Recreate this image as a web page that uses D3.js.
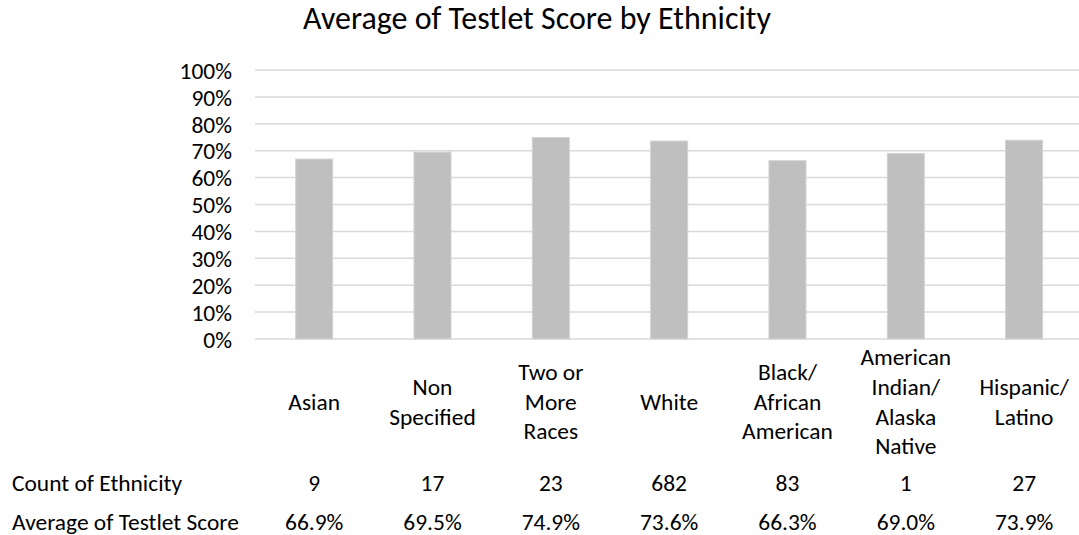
<!DOCTYPE html>
<html>
<head>
<meta charset="utf-8">
<script src="https://cdn.jsdelivr.net/npm/d3@7"></script>
<style>
  html, body { margin: 0; padding: 0; background: #fff; }
  svg { display: block; }
  text { font-family: Carlito, Calibri, Lato, "Open Sans", sans-serif; fill: #000; }
</style>
</head>
<body>
<svg id="chart" width="1079" height="535"></svg>
<script>
// Ethnicity groups (multi-line axis labels)
const categories = [
  ["Asian"],
  ["Non", "Specified"],
  ["Two or", "More", "Races"],
  ["White"],
  ["Black/", "African", "American"],
  ["American", "Indian/", "Alaska", "Native"],
  ["Hispanic/", "Latino"]
];
// Count of Ethnicity
const counts = [9, 17, 23, 682, 83, 1, 27];
// Average of Testlet Score (fraction)
const averages = [0.669, 0.695, 0.749, 0.736, 0.663, 0.690, 0.739];
// Y axis ticks
const yTicks = [0, 0.1, 0.2, 0.3, 0.4, 0.5, 0.6, 0.7, 0.8, 0.9, 1.0];
const tableRowLabels = ["Count of Ethnicity", "Average of Testlet Score"];
const titleText = "Average of Testlet Score by Ethnicity";

const svg = d3.select("#chart");
const keys = categories.map((c, i) => i);

// Pick a font size so a string renders at the wanted width with whatever face is available
function fitSize(str, targetWidth) {
  const probe = svg.append("text").style("font-size", "100px").text(str);
  const w = probe.node().getComputedTextLength();
  probe.remove();
  return 100 * targetWidth / w;
}
const titleSize = fitSize(titleText, 468);
const bodySize = fitSize(tableRowLabels[1], 227);

const x = d3.scaleBand()
  .domain(keys)
  .range([255, 1083.3])
  .paddingInner(0.687)
  .paddingOuter(0.3435);

const y = d3.scaleLinear().domain([0, 1]).range([339, 70]);

// Title
svg.append("text")
  .attr("x", 537).attr("y", 28.5)
  .attr("text-anchor", "middle")
  .style("font-size", titleSize + "px")
  .text(titleText);

// Gridlines
svg.append("g")
  .selectAll("line")
  .data(yTicks)
  .join("line")
  .attr("x1", 255).attr("x2", 1079)
  .attr("y1", d => y(d)).attr("y2", d => y(d))
  .attr("stroke", "#d9d9d9")
  .attr("stroke-width", 1.5);

// Y axis tick labels
const yAxis = d3.axisLeft(y).tickValues(yTicks).tickFormat(d3.format(".0%")).tickSize(0).tickPadding(0);
const yg = svg.append("g").attr("transform", "translate(232,0)").call(yAxis);
yg.select(".domain").remove();
yg.selectAll("text")
  .style("font-size", bodySize + "px")
  .style("font-family", "Carlito, Calibri, Lato, sans-serif")
  .attr("fill", "#000")
  .attr("dy", "0.35em");

// Bars
svg.append("g")
  .selectAll("rect")
  .data(averages)
  .join("rect")
  .attr("x", (d, i) => x(i))
  .attr("width", x.bandwidth())
  .attr("y", d => y(d))
  .attr("height", d => y(0) - y(d))
  .attr("fill", "#bfbfbf")
  .attr("stroke", "#d4d4d4")
  .attr("stroke-width", 1);

// Category labels, vertically centred as a block
const lineH = 29.6;
const catCenterY = 401.6;
const catG = svg.append("g");
categories.forEach((lines, i) => {
  const cx = x(i) + x.bandwidth() / 2;
  const t = catG.append("text")
    .attr("text-anchor", "middle")
    .style("font-size", bodySize + "px");
  lines.forEach((ln, j) => {
    t.append("tspan")
      .attr("x", cx)
      .attr("y", catCenterY + (j - (lines.length - 1) / 2) * lineH)
      .attr("dy", "0.35em")
      .text(ln);
  });
});

// Data table rows
const rowY = [483, 521.7];
const fmtPct = d3.format(".1%");
const rows = [counts.map(String), averages.map(fmtPct)];
rows.forEach((vals, r) => {
  svg.append("text")
    .attr("x", 12).attr("y", rowY[r]).attr("dy", "0.35em")
    .style("font-size", bodySize + "px")
    .text(tableRowLabels[r]);
  svg.append("g")
    .selectAll("text")
    .data(vals)
    .join("text")
    .attr("x", (d, i) => x(i) + x.bandwidth() / 2)
    .attr("y", rowY[r]).attr("dy", "0.35em")
    .attr("text-anchor", "middle")
    .style("font-size", bodySize + "px")
    .text(d => d);
});
</script>
</body>
</html>
